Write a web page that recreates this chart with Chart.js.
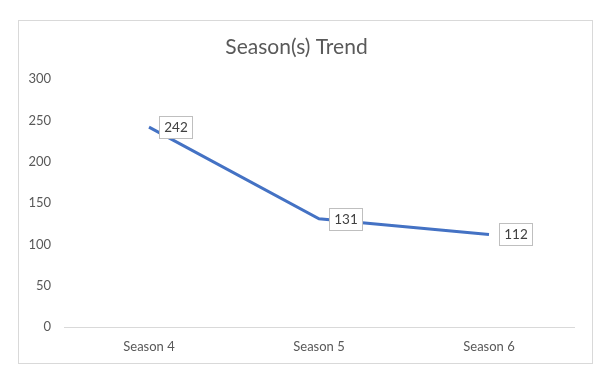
<!DOCTYPE html>
<html>
<head>
<meta charset="utf-8">
<script src="https://cdn.jsdelivr.net/npm/chart.js@4"></script>
<style>
  html, body { margin: 0; padding: 0; background: #fff; width: 602px; height: 372px; overflow: hidden; }
  #box { position: absolute; left: 18px; top: 20px; width: 575px; height: 344px; border: 1px solid #D9D9D9; box-sizing: border-box; background: #fff; }
  canvas { display: block; }
</style>
</head>
<body>
<div id="box"><canvas id="c" width="573" height="342"></canvas></div>
<script>
const categories = ["Season 4", "Season 5", "Season 6"];
const trendValues = [242, 131, 112];
const yTicks = [0, 50, 100, 150, 200, 250, 300];
const chartTitle = "Season(s) Trend";

const FONT = "Lato, 'Open Sans', sans-serif";

const labelBoxes = {
  id: 'labelBoxes',
  afterDatasetsDraw(chart) {
    const ctx = chart.ctx;
    const meta = chart.getDatasetMeta(0);
    ctx.save();
    ctx.font = "13.5px " + FONT;
    ctx.textAlign = 'center';
    ctx.textBaseline = 'middle';
    meta.data.forEach((pt, i) => {
      const txt = String(chart.data.datasets[0].data[i]);
      const w = Math.round(ctx.measureText(txt).width + 10);
      const h = 22;
      const x = Math.round(pt.x + 10) + 0.5;
      const y = Math.round(pt.y - h / 2) + 0.5;
      ctx.fillStyle = '#fff';
      ctx.fillRect(x, y, w, h);
      ctx.strokeStyle = '#BFBFBF';
      ctx.lineWidth = 1;
      ctx.strokeRect(x, y, w, h);
      ctx.fillStyle = '#404040';
      ctx.fillText(txt, x + w / 2, y + h / 2 + 0.5);
    });
    ctx.restore();
  }
};

new Chart(document.getElementById('c'), {
  type: 'line',
  data: {
    labels: categories,
    datasets: [{
      data: trendValues,
      borderColor: '#4472C4',
      borderWidth: 3,
      pointRadius: 0,
      pointHoverRadius: 0,
      tension: 0,
      fill: false
    }]
  },
  options: {
    responsive: false,
    animation: false,
    events: [],
    layout: { padding: { left: 0, right: 18, top: 0, bottom: 0 } },
    plugins: {
      legend: { display: false },
      tooltip: { enabled: false },
      title: {
        display: true,
        text: chartTitle,
        color: '#595959',
        font: { family: FONT, size: 21, weight: 'normal' },
        padding: { top: 14, bottom: 19 }
      }
    },
    scales: {
      x: {
        type: 'category',
        offset: true,
        grid: { display: false, drawTicks: false },
        border: { display: true, color: '#D9D9D9', width: 1 },
        ticks: { color: '#595959', font: { family: FONT, size: 13 }, padding: 12, maxRotation: 0 },
        afterFit(scale) { scale.height = 36; }
      },
      y: {
        min: 0,
        max: 300,
        afterBuildTicks(scale) { scale.ticks = yTicks.map(v => ({ value: v })); },
        grid: { display: false, drawTicks: false },
        border: { display: false },
        ticks: { color: '#595959', font: { family: FONT, size: 13 }, padding: 13 },
        afterFit(scale) { scale.width = 45; }
      }
    }
  },
  plugins: [labelBoxes]
});
</script>
</body>
</html>
